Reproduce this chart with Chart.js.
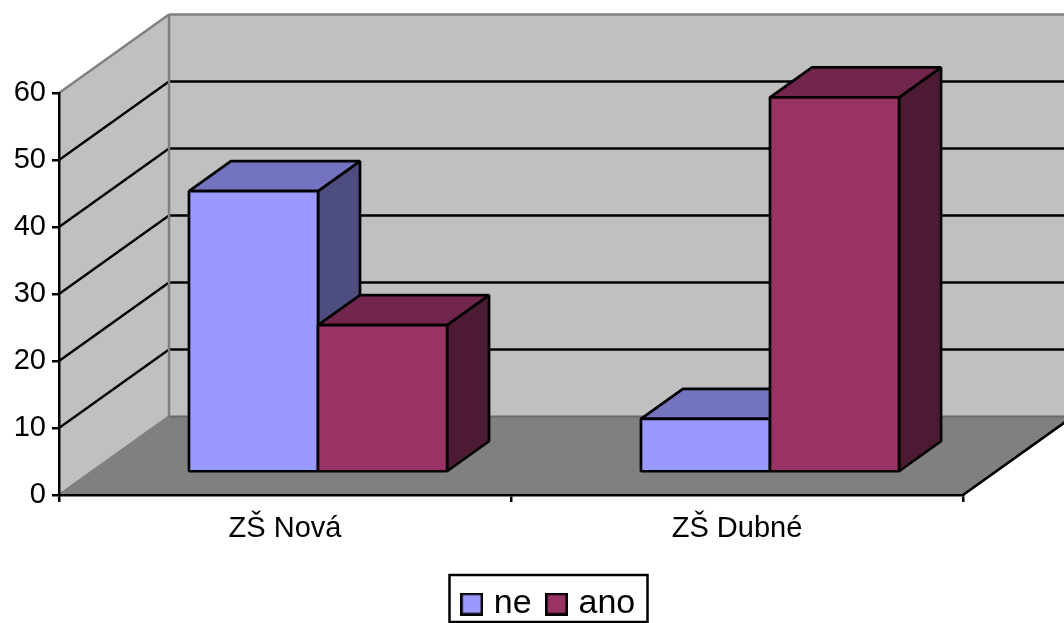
<!DOCTYPE html>
<html>
<head>
<meta charset="utf-8">
<style>
  html, body { margin: 0; padding: 0; background: #fff; overflow: hidden; }
  canvas { display: block; }
</style>
<script src="https://cdn.jsdelivr.net/npm/chart.js@4"></script>
</head>
<body>
<canvas id="myChart" width="1064" height="623"></canvas>
<script>
const categories = ["ZŠ Nová", "ZŠ Dubné"];
const neValues = [42, 8];
const anoValues = [22, 56];

const fontFamily = "'Liberation Sans', Arial, sans-serif";
const wallDepth = { x: 110, y: -78.5 };   // front edge of floor to back wall
const barOffset = { x: 33, y: -22.5 };    // front edge of floor to bar fronts
const barDepth = { x: 42, y: -30 };       // front of bar to back of bar

function polygon(ctx, points, fill, stroke, width) {
    ctx.beginPath();
    points.forEach((p, i) => i ? ctx.lineTo(p[0], p[1]) : ctx.moveTo(p[0], p[1]));
    ctx.closePath();
    if (fill) {
        ctx.fillStyle = fill;
        ctx.fill();
    }
    if (stroke) {
        ctx.strokeStyle = stroke;
        ctx.lineWidth = width;
        ctx.lineJoin = "bevel";
        ctx.stroke();
    }
}

function line(ctx, x1, y1, x2, y2, color, width) {
    ctx.beginPath();
    ctx.moveTo(x1, y1);
    ctx.lineTo(x2, y2);
    ctx.strokeStyle = color;
    ctx.lineWidth = width;
    ctx.stroke();
}

// legend swatch: a square with a black outline, used as the point style
function swatch(color) {
    const c = document.createElement("canvas");
    c.width = 23;
    c.height = 23;
    const g = c.getContext("2d");
    g.fillStyle = color;
    g.fillRect(0, 0, 23, 23);
    g.strokeStyle = "#000";
    g.lineWidth = 2.6;
    g.strokeRect(1.3, 1.3, 20.4, 20.4);
    return c;
}

function drawBox(ctx, bar, colors) {
    const half = bar.width / 2;
    const left = bar.x - half + barOffset.x;
    const right = bar.x + half + barOffset.x;
    const top = bar.y + barOffset.y;
    const bottom = bar.base + barOffset.y;
    const dx = barDepth.x;
    const dy = barDepth.y;
    polygon(ctx, [[right, top], [right + dx, top + dy], [right + dx, bottom + dy], [right, bottom]], colors.side, "#000", 2.7);
    polygon(ctx, [[left, top], [left + dx, top + dy], [right + dx, top + dy], [right, top]], colors.top, "#000", 2.7);
    polygon(ctx, [[left, top], [right, top], [right, bottom], [left, bottom]], colors.front, "#000", 2.7);
}

const room3d = {
    id: "room3d",
    afterLayout(chart) {
        // legend sits right of the page centre, below the axis labels
        const legend = chart.legend;
        legend.left += 69.5;
        legend.right += 69.5;
        legend.top = 567;
        legend.bottom = 623;
    },
    beforeDraw(chart) {
        const ctx = chart.ctx;
        const x = chart.scales.x;
        const y = chart.scales.y;
        const x0 = x.left;
        const x1 = x.right;
        const y0 = y.bottom;
        const yTop = y.top;
        const dx = wallDepth.x;
        const dy = wallDepth.y;
        ctx.save();
        // left wall, back wall, floor
        polygon(ctx, [[x0, y0], [x0 + dx, y0 + dy], [x0 + dx, yTop + dy], [x0, yTop]], "#c0c0c0");
        polygon(ctx, [[x0 + dx, y0 + dy], [x1 + dx, y0 + dy], [x1 + dx, yTop + dy], [x0 + dx, yTop + dy]], "#c0c0c0");
        polygon(ctx, [[x0, y0], [x1, y0], [x1 + dx, y0 + dy], [x0 + dx, y0 + dy]], "#808080");
        // gridlines run across the left wall and then along the back
        y.ticks.forEach(t => {
            const py = y.getPixelForValue(t.value);
            if (t.value > 0 && t.value < 60) {
                line(ctx, x0, py, x0 + dx, py + dy, "#000", 2.4);
                line(ctx, x0 + dx, py + dy, x1 + dx, py + dy, "#000", 2.4);
            }
        });
        // the top gridline is part of the grey frame
        line(ctx, x0, yTop, x0 + dx, yTop + dy, "#808080", 2.5);
        line(ctx, x0 + dx, yTop + dy, x1 + dx, yTop + dy, "#808080", 2.5);
        line(ctx, x0 + dx, y0 + dy, x0 + dx, yTop + dy, "#808080", 2.5);
        line(ctx, x0, y0, x0 + dx, y0 + dy, "#808080", 2.5);
        line(ctx, x0 + dx, y0 + dy, x1 + dx, y0 + dy, "#6a6a6a", 2);
        line(ctx, x1, y0, x1 + dx, y0 + dy, "#000", 2.7);
        ctx.restore();
    },
    beforeDatasetsDraw(chart) {
        const ctx = chart.ctx;
        const count = chart.data.labels.length;
        ctx.save();
        for (let c = 0; c < count; c++) {
            chart.data.datasets.forEach((ds, i) => {
                drawBox(ctx, chart.getDatasetMeta(i).data[c], ds.faces);
            });
        }
        ctx.restore();
        return false;
    },
    afterDraw(chart) {
        const ctx = chart.ctx;
        ctx.save();
        ctx.strokeStyle = "#000";
        ctx.lineWidth = 2.5;
        ctx.strokeRect(449.5, 575, 198, 47);
        ctx.restore();
    }
};

new Chart(document.getElementById("myChart"), {
    type: "bar",
    data: {
        labels: categories,
        datasets: [
            {
                label: "ne",
                data: neValues,
                backgroundColor: "#9999ff",
                borderColor: "#000",
                borderWidth: 2.5,
                faces: { front: "#9999ff", top: "#7373bf", side: "#4d4d80" }
            },
            {
                label: "ano",
                data: anoValues,
                backgroundColor: "#993366",
                borderColor: "#000",
                borderWidth: 2.5,
                faces: { front: "#993366", top: "#73264d", side: "#4d1a33" }
            }
        ]
    },
    plugins: [room3d],
    options: {
        responsive: false,
        animation: false,
        categoryPercentage: 0.571,
        barPercentage: 1,
        layout: { padding: { left: 0, right: 101, top: 93, bottom: 0 } },
        scales: {
            x: {
                afterFit(scale) { scale.height = 64; },
                grid: { drawOnChartArea: false, color: "#000", lineWidth: 2.5, tickLength: 7 },
                border: { color: "#000", width: 2.5 },
                ticks: { color: "#000", padding: 10, maxRotation: 0, font: { family: fontFamily, size: 29 } }
            },
            y: {
                min: 0,
                max: 60,
                afterFit(scale) { scale.width = 59; },
                grid: { drawOnChartArea: false, color: "#000", lineWidth: 2.5, tickLength: 7 },
                border: { color: "#000", width: 2.5 },
                ticks: { stepSize: 10, color: "#000", padding: 6, font: { family: fontFamily, size: 29 } }
            }
        },
        plugins: {
            tooltip: { enabled: false },
            legend: {
                position: "bottom",
                labels: {
                    color: "#000",
                    usePointStyle: true,
                    pointStyleWidth: 10,
                    boxHeight: 22,
                    padding: 20,
                    font: { family: fontFamily, size: 34 },
                    generateLabels(chart) {
                        return chart.data.datasets.map((ds, i) => ({
                            text: ds.label,
                            fontColor: "#000",
                            datasetIndex: i,
                            pointStyle: swatch(ds.backgroundColor)
                        }));
                    }
                }
            }
        }
    }
});
</script>
</body>
</html>
